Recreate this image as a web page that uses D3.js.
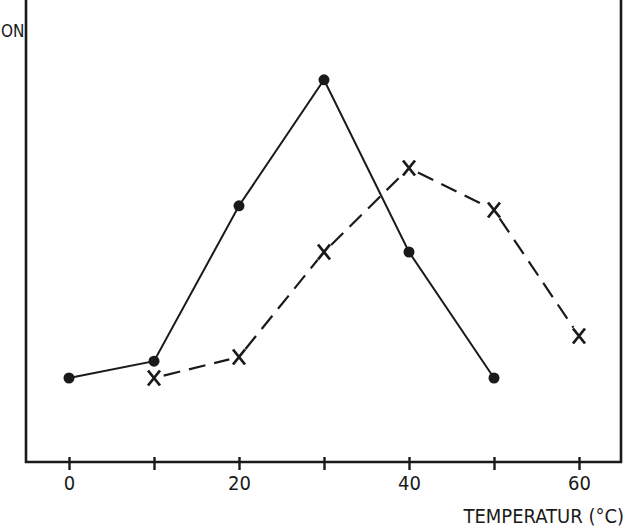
<!DOCTYPE html>
<html><head><meta charset="utf-8">
<script src="https://cdn.jsdelivr.net/npm/d3@7"></script>
<style>body{margin:0;background:#fff}svg{display:block}</style>
</head><body>
<svg id="c" width="628" height="531"></svg>
<script>
const xTicks = [0, 10, 20, 30, 40, 50, 60];
const xTickLabels = ["0", "", "20", "", "40", "", "60"];
const dotX = [0, 10, 20, 30, 40, 50];
const dotY = [20, 24, 61, 91, 50, 20];
const crossX = [10, 20, 30, 40, 50, 60];
const crossY = [20, 25, 50, 70, 60, 30];
const xTitle = "TEMPERATUR (°C)";
const yTitle = "ON";

const svg = d3.select("#c");
const font = "'DejaVu Sans Condensed','DejaVu Sans',sans-serif";
const x = d3.scaleLinear().domain([0, 60]).range([69, 579]);
const y = d3.scaleLinear().domain([0, 100]).range([462, 42]);
const ink = "#1a1a1a";

// frame
svg.append("path").attr("d", "M26,0 V462 H621 V0")
  .attr("fill", "none").attr("stroke", ink).attr("stroke-width", 2.6);

// axis ticks
const ax = svg.append("g").attr("transform", "translate(0,462)")
  .call(d3.axisBottom(x).tickValues(xTicks).tickSizeInner(8).tickSizeOuter(0)
    .tickFormat((d, i) => xTickLabels[i]));
ax.select(".domain").remove();
ax.selectAll(".tick line").attr("stroke", ink).attr("stroke-width", 2.4).attr("y1", -5).attr("y2", 8);
ax.selectAll(".tick text").attr("y", 14).attr("dy", "0.71em")
  .attr("font-family", font).attr("font-size", 20).attr("fill", ink);

svg.append("text").attr("x", 624).attr("y", 523).attr("text-anchor", "end")
  .attr("font-family", font).attr("font-size", 20).attr("fill", ink).text(xTitle);
svg.append("text").attr("x", 1).attr("y", 37).attr("text-anchor", "start")
  .attr("font-family", font).attr("font-size", 17).attr("fill", ink).text(yTitle);

// solid line
const dots = dotX.map((d, i) => [x(d), y(dotY[i])]);
svg.append("path").attr("d", d3.line()(dots)).attr("fill", "none")
  .attr("stroke", ink).attr("stroke-width", 2);
svg.selectAll("circle.dot").data(dots).join("circle").attr("class", "dot")
  .attr("cx", d => d[0]).attr("cy", d => d[1]).attr("r", 5.5).attr("fill", ink);

// dashed line, shortened near crosses
const crosses = crossX.map((d, i) => [x(d), y(crossY[i])]);
const gap = 10;
for (let i = 0; i < crosses.length - 1; i++) {
  const [x0, y0] = crosses[i], [x1, y1] = crosses[i + 1];
  const L = Math.hypot(x1 - x0, y1 - y0), ux = (x1 - x0) / L, uy = (y1 - y0) / L;
  svg.append("line")
    .attr("x1", x0 + ux * gap).attr("y1", y0 + uy * gap)
    .attr("x2", x1 - ux * gap).attr("y2", y1 - uy * gap)
    .attr("stroke", ink).attr("stroke-width", 2.2).attr("stroke-dasharray", "17,9");
}
const cg = svg.selectAll("g.cross").data(crosses).join("g").attr("class", "cross")
  .attr("transform", d => `translate(${d[0]},${d[1]})`);
cg.append("path").attr("d", "M-6,-7.5 L6,7.5 M6,-7.5 L-6,7.5")
  .attr("stroke", ink).attr("stroke-width", 2.8).attr("fill", "none");
</script>
</body></html>
